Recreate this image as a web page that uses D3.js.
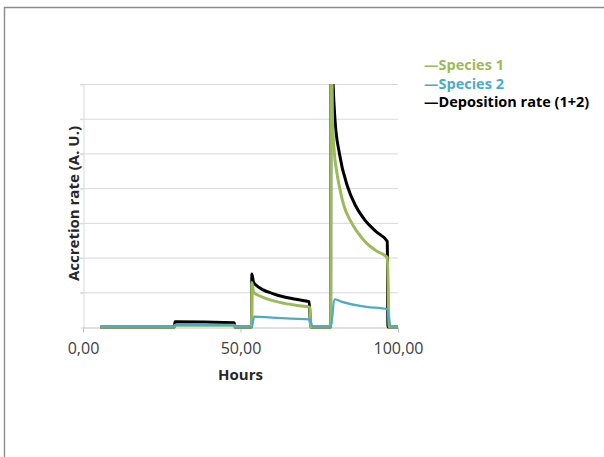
<!DOCTYPE html>
<html>
<head>
<meta charset="utf-8">
<script src="https://cdn.jsdelivr.net/npm/d3@7"></script>
<style>
  body { margin: 0; background: #fff; }
  svg { display: block; font-family: "Open Sans", sans-serif; }
</style>
</head>
<body>
<svg id="chart" width="604" height="457"></svg>
<script>
// values: [hours, accretion rate in A.U.]
var species1 = [
  [5.5, 0], [29, 0], [29.2, 0.05], [48, 0.05], [48.5, 0], [53.5, 0],
  [53.6, 1.28], [54.2, 1.0], [56, 0.9], [59.4, 0.78], [64, 0.68], [68, 0.62], [72, 0.57],
  [72.3, 0], [78.6, 0],
  [78.7, 8.5], [78.9, 8.5], [79.2, 6.0], [79.8, 5.0], [80.5, 4.5], [81.4, 4.04], [82.8, 3.5],
  [84.8, 3.08], [87, 2.75], [90.1, 2.41], [93, 2.2], [96.6, 2.0],
  [97.2, 0], [100, 0]
];
var species2 = [
  [5.5, 0], [29, 0], [29.3, 0.06], [48, 0.05], [48.8, 0], [53.6, 0],
  [54.3, 0.30], [60, 0.27], [66, 0.24], [72, 0.22],
  [73, 0], [78.7, 0],
  [79.8, 0.80], [82, 0.73], [85, 0.66], [90, 0.58], [96.6, 0.51],
  [97.7, 0], [100, 0]
];
var deposition = [
  [5.5, 0], [29, 0], [29.2, 0.15], [48, 0.12], [48.3, 0], [53.5, 0],
  [53.6, 1.53], [54.1, 1.3], [55, 1.2], [57.2, 1.07], [60, 0.97], [63.6, 0.87], [68, 0.79], [71.8, 0.73],
  [72.3, 0], [78.6, 0],
  [78.7, 8.5], [79.1, 8.0], [79.4, 7.0], [80, 5.97], [81.4, 5.0], [84, 4.04], [86.5, 3.5],
  [89.5, 3.08], [93, 2.75], [96.6, 2.46],
  [96.8, 0], [100, 0]
];
var xTicks = [0, 50, 100];
var yGrid = [0, 1, 2, 3, 4, 5, 6, 7];

var series = [
  { name: "Deposition rate (1+2)", values: deposition, color: "#000000", width: 3 },
  { name: "Species 1", values: species1, color: "#9bbb59", width: 3 },
  { name: "Species 2", values: species2, color: "#4bacc6", width: 2.2 }
];
var legendOrder = [series[1], series[2], series[0]];

var svg = d3.select("#chart");

// outer frame (only top and left edges visible)
svg.append("path")
  .attr("d", "M4.5,457 V7.5 H604")
  .attr("fill", "none")
  .attr("stroke", "#8c8c8c")
  .attr("stroke-width", 1.4);

var x = d3.scaleLinear().domain([0, 100]).range([83, 398]);
var y = d3.scaleLinear().domain([0, 7]).range([327, 84]);

// horizontal gridlines
svg.append("g")
  .selectAll("line")
  .data(yGrid.slice(1))
  .enter()
  .append("line")
  .attr("x1", x(0) - 3)
  .attr("x2", x(100))
  .attr("y1", function(d) { return y(d) + 0.5; })
  .attr("y2", function(d) { return y(d) + 0.5; })
  .attr("stroke", "#d9d9d9")
  .attr("stroke-width", 1);

// y axis: line + ticks, no labels
var yAxis = svg.append("g")
  .attr("transform", "translate(" + (x(0) + 0.5) + ",0.5)")
  .call(d3.axisLeft(y).tickValues(yGrid).tickSize(3).tickSizeOuter(0).tickFormat(""));
yAxis.select(".domain").attr("stroke", "#d9d9d9");
yAxis.selectAll(".tick line").attr("stroke", "#d9d9d9");

// x axis
var xAxis = svg.append("g")
  .attr("transform", "translate(0," + (y(0) + 0.5) + ")")
  .call(d3.axisBottom(x).tickValues(xTicks).tickSize(5).tickSizeOuter(0)
    .tickFormat(function(d) { return d3.format(".2f")(d).replace(".", ","); }));
xAxis.select(".domain").attr("stroke", "#bfbfbf");
xAxis.selectAll(".tick line").attr("stroke", "#bfbfbf");
xAxis.selectAll(".tick text")
  .attr("y", 15)
  .attr("font-family", "'Open Sans', sans-serif")
  .attr("font-size", 16)
  .attr("fill", "#404040");

// axis titles
svg.append("text")
  .attr("x", x(50))
  .attr("y", 380)
  .attr("text-anchor", "middle")
  .attr("font-size", 15)
  .attr("font-weight", "bold")
  .attr("fill", "#262626")
  .text("Hours");

svg.append("text")
  .attr("transform", "translate(79," + (y(3.5) - 2) + ") rotate(-90)")
  .attr("text-anchor", "middle")
  .attr("font-size", 15)
  .attr("font-weight", "bold")
  .attr("fill", "#262626")
  .text("Accretion rate (A. U.)");

// lines, clipped to the plot area
svg.append("clipPath")
  .attr("id", "plot")
  .append("rect")
  .attr("x", x(0))
  .attr("y", y(7))
  .attr("width", x(100) - x(0) + 2)
  .attr("height", y(0) - y(7) + 2);

var line = d3.line()
  .x(function(d) { return x(d[0]); })
  .y(function(d) { return y(d[1]); })
  .curve(d3.curveMonotoneX);

svg.append("g")
  .attr("clip-path", "url(#plot)")
  .selectAll("path")
  .data(series)
  .enter()
  .append("path")
  .attr("d", function(d) { return line(d.values); })
  .attr("fill", "none")
  .attr("stroke", function(d) { return d.color; })
  .attr("stroke-width", function(d) { return d.width; })
  .attr("stroke-linejoin", "round");

// legend
svg.append("g")
  .selectAll("text")
  .data(legendOrder)
  .enter()
  .append("text")
  .attr("x", 424)
  .attr("y", function(d, i) { return 70 + i * 18.5; })
  .attr("font-size", 14.5)
  .attr("font-weight", "bold")
  .attr("fill", function(d) { return d.color; })
  .text(function(d) { return "\u2014" + d.name; });
</script>
</body>
</html>
